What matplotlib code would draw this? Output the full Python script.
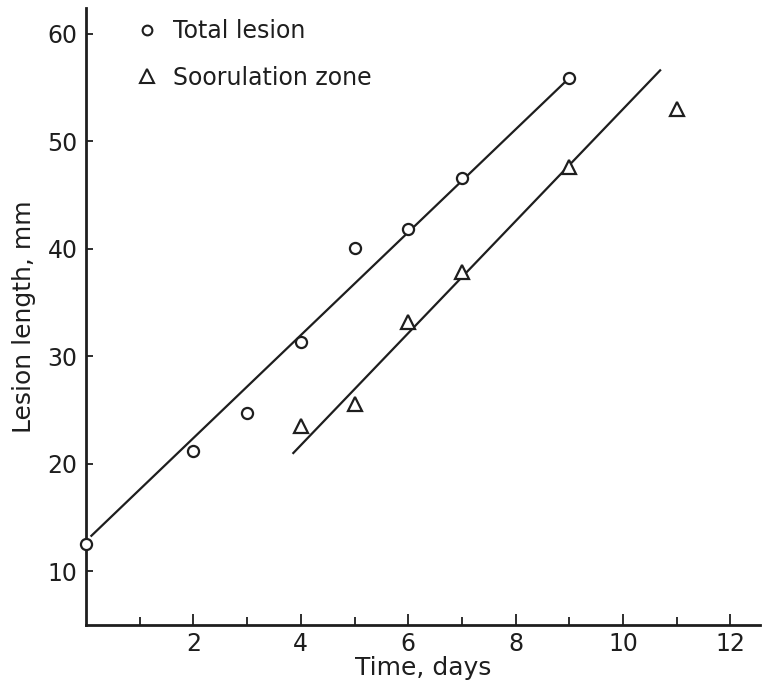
import matplotlib
matplotlib.use("Agg")
from matplotlib import pyplot as plt
from matplotlib.lines import Line2D

# values
total_days = [0, 2, 3, 4, 5, 6, 7, 9]
total_mm = [12.5, 21.2, 24.7, 31.3, 40.1, 41.8, 46.6, 55.9]

spor_days = [4, 5, 6, 7, 9, 11]
spor_mm = [23.5, 25.6, 33.2, 37.8, 47.6, 53.0]

# fitted lines as drawn (start/end)
total_fit_days = [0.1, 9.0]
total_fit_mm = [13.3, 55.9]
spor_fit_days = [3.86, 10.69]
spor_fit_mm = [21.0, 56.6]

x_ticks = [2, 4, 6, 8, 10, 12]
x_minor = [1, 3, 5, 7, 9, 11]
y_ticks = [10, 20, 30, 40, 50, 60]

ink = "#1e1e1e"
plt.rcParams["font.family"] = ["DejaVu Sans"]

fig = plt.figure(figsize=(7.66, 6.9), dpi=100)
ax = fig.add_axes([0.1123, 0.0942, 0.8799, 0.8942])

ax.plot(total_fit_days, total_fit_mm, color=ink, lw=1.6, zorder=2)
ax.plot(spor_fit_days, spor_fit_mm, color=ink, lw=1.6, zorder=2)

ax.plot(total_days, total_mm, ls="none", marker="o", ms=8, mfc="white",
        mec=ink, mew=1.6, zorder=3, clip_on=False)
ax.plot(spor_days, spor_mm, ls="none", marker="^", ms=10.5, mfc="white",
        mec=ink, mew=1.6, zorder=3, clip_on=False)

ax.set_xlim(0, 12.55)
ax.set_ylim(5, 62.4)

for side in ("top", "right"):
    ax.spines[side].set_visible(False)
for side in ("left", "bottom"):
    ax.spines[side].set_linewidth(2.0)
    ax.spines[side].set_color(ink)

ax.set_xticks(x_ticks)
ax.set_xticks(x_minor, minor=True)
ax.set_yticks(y_ticks)
ax.tick_params(axis="x", which="major", direction="in", length=8, width=1.3,
               labelsize=17, pad=5, colors=ink)
ax.tick_params(axis="x", which="minor", direction="in", length=6, width=1.3,
               colors=ink)
ax.tick_params(axis="y", direction="in", length=5, width=1.3, labelsize=17,
               pad=6, colors=ink)

ax.set_xlabel("Time, days", fontsize=18, color=ink, labelpad=0)
ax.set_ylabel("Lesion length, mm", fontsize=18, color=ink, labelpad=8)

handles = [
    Line2D([], [], ls="none", marker="o", ms=7, mfc="white", mec=ink, mew=1.5),
    Line2D([], [], ls="none", marker="^", ms=10, mfc="white", mec=ink, mew=1.5),
]
fig.legend(handles, ["Total lesion", "Soorulation zone"], loc="upper left",
           bbox_to_anchor=(0.152, 1.003), frameon=False, fontsize=17,
           handlelength=0.8, handletextpad=0.7, labelspacing=0.95,
           labelcolor=ink)

fig.savefig("out.png", dpi=100)
